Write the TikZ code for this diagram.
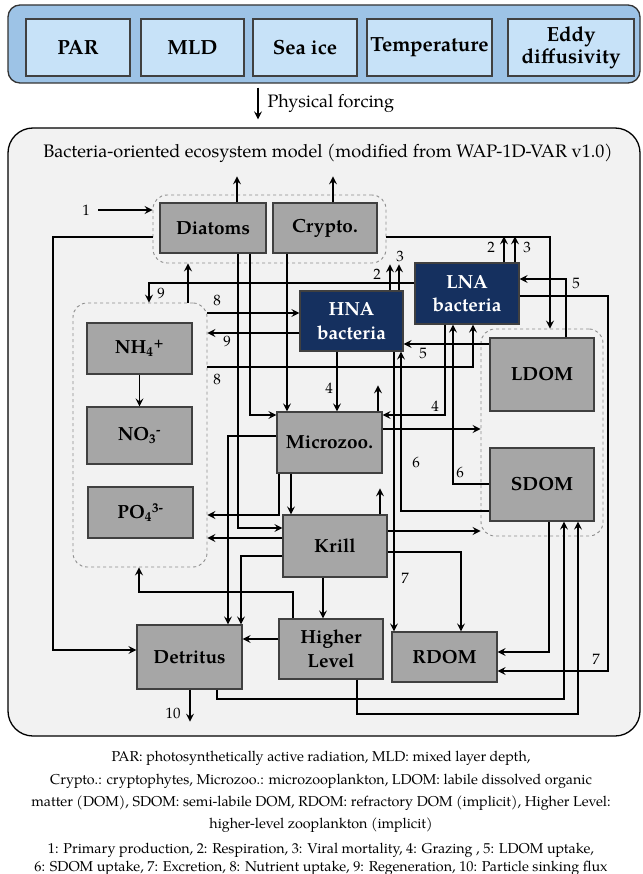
\documentclass[tikz,border=0pt]{standalone}
\usepackage{fontspec}
\setmainfont{TeX Gyre Pagella}
\usetikzlibrary{arrows.meta}
\definecolor{skyblue}{HTML}{9DC3E6}
\definecolor{paleblue}{HTML}{C7E2F8}
\definecolor{navy}{HTML}{15305F}
\definecolor{boxgray}{HTML}{A6A6A6}
\definecolor{panel}{HTML}{F2F2F2}
\tikzset{
	forcebox/.style={draw=black!75, fill=paleblue, line width=1.1pt, minimum height=57, inner sep=1pt, align=center, font=\fontsize{20.5}{22}\selectfont\bfseries},
	poolbox/.style={draw=black!75, fill=boxgray, line width=1.2pt, inner sep=1pt, align=center, font=\fontsize{19}{23.5}\selectfont\bfseries},
	bactbox/.style={poolbox, fill=navy, text=white},
	groupbox/.style={draw=black!45, dashed, line width=0.9pt, rounded corners=14},
	flux/.style={inner sep=0pt, font=\fontsize{15}{16}\selectfont},
	keytext/.style={inner sep=0pt, font=\fontsize{14.3}{16}\selectfont}
}
\begin{document}
\begin{tikzpicture}[x=1pt, y=-1pt, line width=1.2pt, >={Stealth[length=8pt,width=8pt,inset=3pt]}]
	\useasboundingbox (0,0) rectangle (642,874);
	%forcing panel
	\node[draw=black!80, fill=skyblue, line width=1.3pt, rounded corners=12, minimum width=632, minimum height=78] (forc) at (324,44) {};
	\foreach \name/\cx/\w/\txt in {par/78/104/PAR, mld/192.5/103/MLD, ice/305/104/Sea ice, temp/429.5/125/Temperature, eddy/571/126/{Eddy\\diffusivity}}
		\node[forcebox, minimum width=\w] (\name) at (\cx,47.5) {\txt};
	%model panel
	\node[draw, fill=panel, line width=1.3pt, rounded corners=25, minimum width=632, minimum height=608] (model) at (324,432) {};
	\draw[->, shorten <=4pt, shorten >=8pt] (forc.south -| 258,0) -- (model.north -| 258,0);
	\node[anchor=west, inner sep=0pt, font=\fontsize{18}{19}\selectfont] (pf) at (267,103) {Physical forcing};
	\node[font=\fontsize{18.1}{19}\selectfont] (title) at (328,153) {Bacteria-oriented ecosystem model (modified from WAP-1D-VAR v1.0)};
	%groups
	\node[groupbox, minimum width=233, minimum height=68] (phy) at (269.5,229) {};
	\node[groupbox, minimum width=134, minimum height=264] (nut) at (140,435) {};
	\node[groupbox, minimum width=122, minimum height=207] (dom) at (542,432.5) {};
	%pools
	\node[poolbox, minimum width=106, minimum height=50] (diat) at (213,228) {Diatoms};
	\node[poolbox, minimum width=104, minimum height=50] (cryp) at (325,228) {Crypto.};
	\node[poolbox, minimum width=105, minimum height=51] (nh4) at (139.5,348.5) {NH\textsubscript{4}\textsuperscript{+}};
	\node[poolbox, minimum width=105, minimum height=57] (no3) at (139.5,435.5) {NO\textsubscript{3}\textsuperscript{-}};
	\node[poolbox, minimum width=105, minimum height=51] (po4) at (140.5,512.5) {PO\textsubscript{4}\textsuperscript{3-}};
	\node[bactbox, minimum width=103, minimum height=60] (hna) at (351.5,321) {HNA\\bacteria};
	\node[bactbox, minimum width=104, minimum height=61] (lna) at (467,293.5) {LNA\\bacteria};
	\node[poolbox, minimum width=104, minimum height=73] (ldom) at (542,374.5) {LDOM};
	\node[poolbox, minimum width=104, minimum height=73] (sdom) at (542,484.5) {SDOM};
	\node[poolbox, minimum width=105, minimum height=61] (micro) at (329.5,442.5) {Microzoo.};
	\node[poolbox, minimum width=104, minimum height=62] (krill) at (335,546) {Krill};
	\node[poolbox, minimum width=105, minimum height=64] (detr) at (189.5,657) {Detritus};
	\node[poolbox, minimum width=104, minimum height=60] (hl) at (331,649) {Higher\\Level};
	\node[poolbox, minimum width=105, minimum height=50] (rdom) at (444.5,657) {RDOM};
	%primary production
	\node[flux] (n1) at (86,210) {1};
	\draw[->] ([xshift=8pt]n1.east) -- (phy.west |- n1);
	%losses out of the system
	\foreach \src/\x in {diat/237, cryp/333, hna/390, hna/399, lna/504, lna/515, micro/378, krill/380}
		\draw[->] (\src.north -| \x,0) -- ++(0,-26);
	\draw[->] (detr.south -| 190,0) -- ++(0,32);
	\node[flux] (n10) at (173,713) {10};
	\node[flux] (n2a) at (377,274) {2};
	\node[flux] (n3a) at (400,256) {3};
	\node[flux] (n2b) at (491,247) {2};
	\node[flux] (n3b) at (527,247) {3};
	%phytoplankton
	\draw[->] (phy.west |- 0,237) -- (53,237) |- (detr.west |- 0,650);
	\draw[->] (phy.east |- 0,237) -| (dom.north -| 550,0);
	\draw[->] (diat.south -| 250,0) |- (micro.west |- 0,415);
	\draw[->] (diat.south -| 238,0) |- (krill.west |- 0,528);
	\draw[->] (cryp.south -| 287,0) -- (micro.north -| 287,0);
	%nutrients
	\draw[->] (nh4) -- (no3);
	\draw[->] (nut.north -| 188,0) -- (phy.south -| 188,0);
	\draw[->] (lna.west |- 0,283) -| (nut.north -| 149,0);
	\draw[->] (nut.east |- 0,313) -- (hna.west |- 0,313);
	\draw[->] (hna.west |- 0,333) -- (nut.east |- 0,333);
	\draw[->] (nut.east |- 0,367) -| (lna.south -| 473,0);
	\node[flux] (n9a) at (161,293) {9};
	\node[flux] (n8a) at (217,300) {8};
	\node[flux] (n9b) at (227,341) {9};
	\node[flux] (n8b) at (217,379) {8};
	%bacteria
	\draw[->] (lna.south -| 445,0) |- (micro.east |- 0,415);
	\draw[->] (sdom.west |- 0,484) -| (lna.south -| 453,0);
	\draw[->] (ldom.north -| 566,0) |- (lna.east |- 0,279);
	\draw[->] (ldom.west |- 0,344) -- (hna.east |- 0,344);
	\draw[->] (sdom.west |- 0,511) -| (hna.south -| 401,0);
	\draw[->] (hna.south -| 394,0) -- (rdom.north -| 394,0);
	\draw[->] (hna.south -| 337,0) -- (micro.north -| 337,0);
	\draw[->] (lna.east |- 0,296) -- (608,296) |- (rdom.east |- 0,671);
	\node[flux] (n5a) at (576,283) {5};
	\node[flux] (n5b) at (423,353) {5};
	\node[flux] (n4a) at (329,388) {4};
	\node[flux] (n4b) at (435,406) {4};
	\node[flux] (n6a) at (416,462) {6};
	\node[flux] (n6b) at (460,472) {6};
	\node[flux] (n7a) at (405,578) {7};
	\node[flux] (n7b) at (596,659) {7};
	%zooplankton
	\draw[->] (micro.east |- 0,429) -- (dom.west |- 0,429);
	\draw[->] (micro.south -| 279,0) |- (nut.east |- 0,515);
	\draw[->] (micro.west |- 0,436) -| (detr.north -| 228,0);
	\draw[->] (micro.south -| 291,0) -- (krill.north -| 291,0);
	\draw[->] (krill.west |- 0,538) -- (nut.east |- 0,538);
	\draw[->] (krill.west |- 0,556) -| (detr.north -| 241,0);
	\draw[->] (krill.east |- 0,531) -- (dom.west |- 0,531);
	\draw[->] (krill.east |- 0,552) -| (rdom.north -| 461,0);
	\draw[->] (krill.south -| 323,0) -- (hl.north -| 323,0);
	\draw[->] (hl.west |- 0,639) -- (detr.east |- 0,639);
	\draw[->] (hl.north -| 293,0) |- (139,592) -- (nut.south -| 139,0);
	%back to DOM
	\draw[->] (hl.south -| 357,0) |- (578,714) -- (sdom.south -| 578,0);
	\draw[->] (detr.south -| 217,0) |- (564,699) -- (sdom.south -| 564,0);
	\draw[->] (sdom.south -| 549,0) |- (rdom.east |- 0,652);
	%key
	\node[keytext] (key1) at (321,758) {PAR: photosynthetically active radiation, MLD: mixed layer depth,};
	\node[keytext] (key2) at (321,781) {Crypto.: cryptophytes, Microzoo.: microzooplankton, LDOM: labile dissolved organic};
	\node[keytext] (key3) at (321,803) {matter (DOM), SDOM: semi-labile DOM, RDOM: refractory DOM (implicit), Higher Level:};
	\node[keytext] (key4) at (321,825) {higher-level zooplankton (implicit)};
	\node[keytext] (key5) at (321,850) {1: Primary production, 2: Respiration, 3: Viral mortality, 4: Grazing , 5: LDOM uptake,};
	\node[keytext] (key6) at (321,868) {6: SDOM uptake, 7: Excretion, 8: Nutrient uptake, 9: Regeneration, 10: Particle sinking flux};
\end{tikzpicture}
\end{document}
